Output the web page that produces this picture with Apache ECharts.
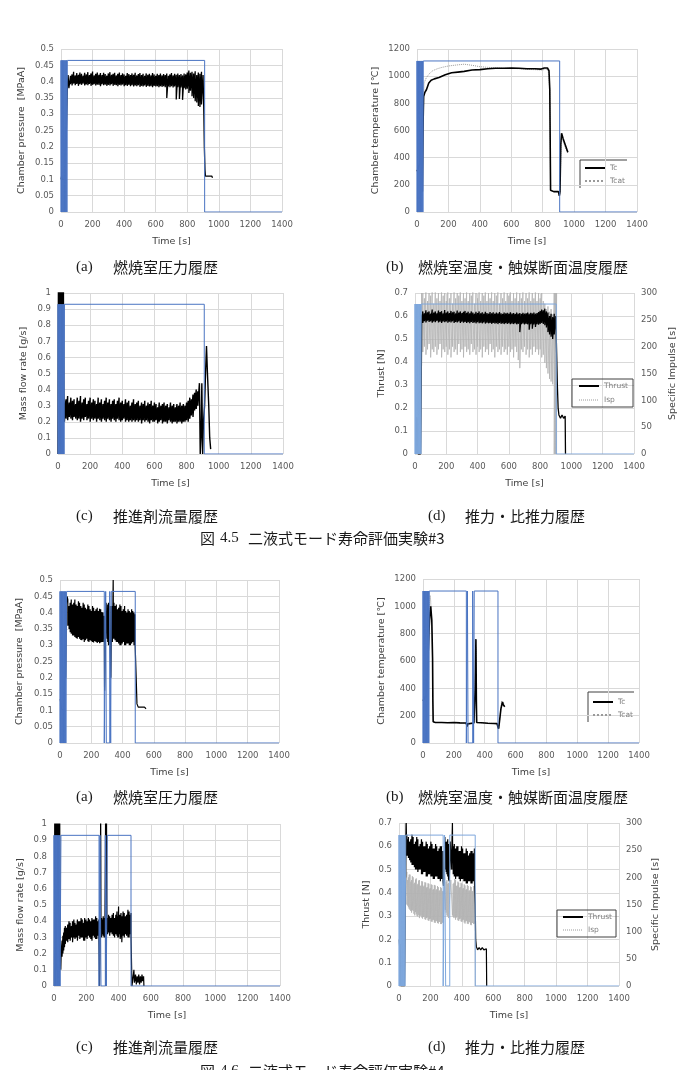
<!DOCTYPE html>
<html>
<head>
<meta charset="utf-8">
<title>二液式モード寿命評価実験</title>
<script src="https://cdn.jsdelivr.net/npm/echarts@6/dist/echarts.min.js"></script>
<style>
    html, body { margin: 0; padding: 0; background: #fff; }
    #fig { width: 689px; height: 1070px; }
</style>
</head>
<body>
<div id="fig"></div>
<script>
    // ---- data ----
    // [t, v] = single point, [t, hi, lo] = one stroke of the noise band
    const timeTicks = [0, 1400, 200];

    // valve signal: toggle times (off->on->off ...)
    const startPulses = [0, 2.5, 5, 7.5, 10, 12.5, 15, 17.5, 20, 22.5, 25, 27.5, 30, 32.5, 35, 37.5];
    const valveA3 = [40, 910];
    const valveB3 = [40, 908];
    const valveC3 = [40, 910];
    const valveD3 = [40, 903];
    const valveA4 = [42, 283, 292, 296, 318, 324, 328, 481];
    const valveB4 = [41, 281, 288, 292, 322, 328, 332, 486];
    const valveC4 = [43, 279, 285, 291, 318, 324, 330, 477];
    const valveD4 = [43, 281, 290, 297, 323, 485];
    const valveLevel = { a3: 0.465, b3: 1112, c3: 0.93, d3: 0.652, a4: 0.465, b4: 1112, c4: 0.93, d4: 0.648 };

    // #3 chamber pressure [MPaA]
    const pressure3 = [
        [1, 0.1], [4, 0.11], [7, 0.1], [26, 0.1], [28, 0.18], [30, 0.26], [32, 0.2], [36, 0.3], [40, 0.38], [45, 0.42],
        [50, .425, .38], [60, .418, .392], [70, .422, .388], [80, .43, .394], [90, .419, .389], [100, .426, .393],
        [110, .421, .387], [120, .428, .392], [130, .424, .39], [140, .418, .394], [150, .427, .388], [160, .422, .391],
        [170, .429, .389], [180, .42, .393], [190, .425, .387], [200, .431, .39], [210, .419, .392], [220, .424, .388],
        [230, .428, .391], [240, .421, .39], [250, .426, .386], [260, .42, .392], [270, .427, .389], [280, .423, .391],
        [290, .418, .387], [300, .425, .39], [310, .429, .388], [320, .421, .392], [330, .424, .387], [340, .427, .39],
        [350, .419, .389], [360, .424, .386], [370, .428, .39], [380, .42, .388], [390, .425, .391], [400, .422, .386],
        [410, .418, .389], [420, .426, .387], [430, .423, .39], [440, .42, .386], [450, .425, .389], [460, .421, .385],
        [470, .427, .388], [480, .419, .386], [490, .423, .389], [500, .426, .384], [510, .42, .387], [520, .424, .385],
        [530, .418, .388], [540, .425, .384], [550, .421, .387], [560, .424, .385], [570, .419, .386], [580, .426, .383],
        [590, .422, .387], [600, .418, .385], [610, .424, .386], [620, .42, .383], [630, .425, .386], [640, .419, .384],
        [650, .423, .386], [660, .42, .383], [670, .425, .35], [680, .418, .385], [690, .422, .383], [700, .426, .386],
        [710, .419, .382], [720, .424, .385], [730, .421, .345], [740, .425, .383], [750, .42, .347], [760, .423, .382],
        [770, .419, .344], [780, .425, .38], [790, .422, .376], [800, .428, .378], [810, .434, .365], [820, .427, .372],
        [830, .43, .355], [840, .425, .35], [850, .432, .34], [860, .42, .336], [870, .428, .325], [880, .424, .322],
        [890, .43, .33],
        [900, 0.42], [905, 0.3], [908, 0.2], [912, 0.13], [915, 0.11], [925, 0.105], [935, 0.11], [945, 0.105], [955, 0.11], [960, 0.105]
    ];

    // #3 chamber / catalyst temperature [℃]
    const tc3 = [
        [0, 300], [8, 320], [15, 350], [22, 400], [28, 600], [31, 350], [34, 150], [38, 600], [42, 850], [50, 880], [60, 900],
        [75, 950], [90, 970], [110, 980], [140, 990], [180, 1010], [220, 1025], [260, 1030], [300, 1035], [350, 1045], [400, 1048],
        [450, 1055], [500, 1058], [550, 1058], [600, 1060], [650, 1058], [700, 1055], [750, 1055], [790, 1052], [810, 1060],
        [820, 1072], [830, 1060], [840, 1040], [845, 900], [850, 160], [870, 150], [900, 150], [906, 120], [910, 150], [915, 500],
        [920, 580], [930, 540], [945, 490], [960, 440]
    ];
    const tcat3 = [
        [0, 300], [15, 340], [28, 600], [34, 200], [40, 700], [45, 950], [60, 990], [80, 1020], [100, 1040], [130, 1055],
        [160, 1065], [200, 1075], [250, 1082], [300, 1088], [350, 1080], [400, 1070], [450, 1065], [500, 1062], [550, 1058],
        [600, 1058], [650, 1055], [700, 1050], [750, 1048], [800, 1045], [820, 1055], [835, 1040], [845, 900], [850, 160],
        [870, 150], [900, 150], [906, 120], [910, 150], [918, 540], [930, 520], [945, 470], [960, 430]
    ];

    // #3 mass flow rate [g/s]
    const flow3 = [
        [0, 0], [3, 1.2], [6, 0], [9, 1.2], [12, 0.05], [15, 1.2], [18, 0], [21, 1.2], [24, 0.1], [27, 1.2], [30, 0], [33, 1.2],
        [36, 0.4], [40, 0.2], [45, 0.3],
        [50, .34, .22], [60, .36, .21], [70, .32, .23], [80, .35, .22], [90, .33, .21], [100, .34, .23], [110, .31, .22],
        [120, .35, .21], [130, .33, .22], [140, .36, .2], [150, .32, .22], [160, .34, .21], [170, .35, .23], [180, .31, .21],
        [190, .33, .22], [200, .35, .2], [210, .32, .22], [220, .34, .21], [230, .33, .22], [240, .31, .2], [250, .35, .22],
        [260, .32, .21], [270, .34, .2], [280, .31, .22], [290, .33, .21], [300, .35, .2], [310, .32, .22], [320, .34, .21],
        [330, .31, .2], [340, .33, .22], [350, .34, .21], [360, .31, .2], [370, .33, .22], [380, .35, .21], [390, .32, .2],
        [400, .33, .21], [410, .31, .22], [420, .34, .2], [430, .32, .21], [440, .33, .2], [450, .3, .21], [460, .32, .2],
        [470, .34, .21], [480, .31, .2], [490, .32, .21], [500, .33, .2], [510, .3, .21], [520, .32, .19], [530, .31, .21],
        [540, .33, .2], [550, .3, .21], [560, .32, .2], [570, .31, .19], [580, .33, .21], [590, .3, .2], [600, .32, .2],
        [610, .31, .21], [620, .29, .19], [630, .32, .2], [640, .3, .21], [650, .31, .19], [660, .32, .2], [670, .3, .2],
        [680, .31, .19], [690, .29, .21], [700, .32, .2], [710, .3, .19], [720, .31, .2], [730, .29, .2], [740, .31, .19],
        [750, .3, .2], [760, .32, .2], [770, .3, .19], [780, .31, .2], [790, .3, .2], [800, .32, .21], [810, .33, .2],
        [820, .35, .22], [830, .34, .24], [840, .37, .23], [850, .38, .27], [860, .4, .28], [870, .39, .3],
        [880, 0.44], [885, 0], [890, 0.1], [895, 0.44], [900, 0], [905, 0.2], [912, 0.3], [918, 0.5], [924, 0.67], [930, 0.5],
        [938, 0.3], [944, 0.1], [950, 0.03]
    ];

    // #3 thrust [N] and Isp [s]
    const thrust3 = [
        [5, 0], [10, 0.16], [15, 0.15], [20, 0], [35, 0], [40, 0.3], [43, 0.6], [48, 0.61],
        [50, .62, .57], [60, .612, .578], [70, .625, .572], [80, .616, .58], [90, .62, .574], [100, .61, .577],
        [110, .628, .571], [120, .615, .576], [130, .62, .573], [140, .612, .579], [150, .624, .572], [160, .617, .575],
        [170, .621, .57], [180, .611, .577], [190, .626, .573], [200, .615, .576], [210, .62, .571], [220, .613, .575],
        [230, .622, .572], [240, .616, .577], [250, .619, .57], [260, .611, .574], [270, .624, .572], [280, .615, .576],
        [290, .62, .57], [300, .613, .575], [310, .618, .571], [320, .622, .574], [330, .614, .57], [340, .619, .573],
        [350, .612, .569], [360, .62, .574], [370, .615, .57], [380, .61, .572], [390, .618, .568], [400, .613, .573],
        [410, .62, .569], [420, .612, .571], [430, .616, .568], [440, .61, .572], [450, .618, .567], [460, .613, .571],
        [470, .61, .568], [480, .617, .57], [490, .612, .566], [500, .616, .57], [510, .61, .567], [520, .615, .569],
        [530, .611, .565], [540, .617, .57], [550, .612, .566], [560, .609, .568], [570, .615, .565], [580, .611, .569],
        [590, .614, .566], [600, .61, .568], [610, .616, .564], [620, .611, .567], [630, .613, .565], [640, .609, .568],
        [650, .615, .564], [660, .61, .566], [670, .613, .53], [680, .609, .565], [690, .614, .567], [700, .61, .563],
        [710, .612, .566], [720, .615, .564], [730, .61, .54], [740, .614, .565], [750, .611, .545], [760, .615, .563],
        [770, .61, .552], [780, .613, .565], [790, .617, .562], [800, .622, .566], [810, .628, .57], [820, .625, .565],
        [830, .632, .56], [840, .62, .55], [850, .615, .53], [860, .6, .52], [870, .61, .51], [880, .595, .5], [890, .61, .52],
        [900, 0.6], [905, 0.45], [910, 0.3], [915, 0.2], [920, 0.17], [930, 0.155], [940, 0.17], [950, 0.155], [960, 0.165], [962, 0]
    ];
    const isp3 = [
        [38, 0], [42, 300], [46, 250],
        [50, 300, 190], [60, 290, 200], [70, 310, 185], [80, 285, 195], [90, 300, 205], [100, 295, 180], [110, 310, 195],
        [120, 280, 190], [130, 305, 200], [140, 290, 185], [150, 300, 195], [160, 285, 205], [170, 310, 180], [180, 295, 195],
        [190, 300, 190], [200, 285, 200], [210, 310, 185], [220, 290, 195], [230, 300, 180], [240, 280, 200], [250, 305, 190],
        [260, 290, 195], [270, 300, 185], [280, 295, 205], [290, 310, 190], [300, 285, 195], [310, 300, 180], [320, 290, 200],
        [330, 305, 190], [340, 285, 195], [350, 300, 185], [360, 295, 205], [370, 310, 190], [380, 280, 195], [390, 300, 185],
        [400, 290, 200], [410, 305, 190], [420, 285, 195], [430, 300, 180], [440, 295, 200], [450, 310, 190], [460, 285, 195],
        [470, 300, 185], [480, 290, 205], [490, 305, 190], [500, 285, 195], [510, 300, 180], [520, 295, 200], [530, 310, 190],
        [540, 280, 195], [550, 300, 185], [560, 290, 200], [570, 305, 190], [580, 285, 195], [590, 300, 185], [600, 295, 200],
        [610, 310, 190], [620, 285, 195], [630, 300, 180], [640, 290, 200], [650, 305, 190], [660, 285, 175], [670, 300, 160],
        [680, 290, 195], [690, 305, 190], [700, 285, 200], [710, 300, 185], [720, 290, 195], [730, 305, 180], [740, 285, 195],
        [750, 300, 185], [760, 290, 200], [770, 305, 190], [780, 285, 195], [790, 300, 185], [800, 290, 195], [810, 300, 180],
        [820, 285, 185], [830, 280, 170], [840, 270, 160], [850, 275, 150], [860, 265, 140], [870, 270, 135], [880, 260, 130],
        [890, 300, 0], [895, 300, 0], [900, 300, 0], [905, 300, 0]
    ];

    // #4 chamber pressure [MPaA]
    const pressure4 = [
        [2, 0.135], [5, 0.12], [8, 0.105], [12, 0.1], [25, 0.1], [28, 0.18], [32, 0.3], [36, 0.2], [40, 0.42], [45, 0.45],
        [50, 0.44, 0.36], [58, 0.42, 0.35], [65, 0.43, 0.34], [72, 0.44, 0.335], [80, 0.425, 0.33], [88, 0.43, 0.33],
        [95, 0.44, 0.325], [103, 0.425, 0.322], [110, 0.42, 0.32], [118, 0.435, 0.325], [125, 0.43, 0.32], [133, 0.42, 0.316],
        [140, 0.415, 0.315], [148, 0.43, 0.318], [155, 0.425, 0.31], [163, 0.415, 0.315], [170, 0.41, 0.32], [178, 0.425, 0.312],
        [185, 0.42, 0.31], [193, 0.41, 0.315], [200, 0.405, 0.312], [208, 0.42, 0.31], [215, 0.415, 0.308], [223, 0.405, 0.313],
        [230, 0.41, 0.31], [238, 0.415, 0.307], [245, 0.405, 0.31], [253, 0.412, 0.306], [260, 0.41, 0.308], [268, 0.402, 0.31],
        [275, 0.4, 0.31],
        [283, 0.39], [285, 0.16], [290, 0.3], [295, 0.43],
        [300, 0.435, 0.32], [305, 0.425, 0.31], [310, 0.43, 0.3], [315, 0.42, 0.305], [320, 0.42, 0.31],
        [325, 0.2], [330, 0.42], [335, 0.31], [340, 0.5], [342, 0.32],
        [345, 0.43, 0.32], [352, 0.42, 0.315], [360, 0.425, 0.31], [368, 0.41, 0.31], [375, 0.415, 0.305], [383, 0.425, 0.3],
        [390, 0.42, 0.3], [398, 0.405, 0.305], [405, 0.41, 0.31], [413, 0.42, 0.3], [420, 0.405, 0.3], [428, 0.4, 0.305],
        [435, 0.41, 0.305], [443, 0.405, 0.3], [450, 0.4, 0.3], [458, 0.41, 0.305], [465, 0.405, 0.31], [473, 0.4, 0.3],
        [480, 0.395, 0.305],
        [483, 0.3], [487, 0.2], [492, 0.12], [500, 0.11], [510, 0.105], [520, 0.11], [530, 0.105], [540, 0.11], [550, 0.105]
    ];

    // #4 chamber / catalyst temperature [℃]
    const tc4 = [
        [0, 310], [10, 325], [18, 340], [25, 420], [30, 560], [35, 700], [40, 850], [45, 950], [50, 1000], [53, 1000], [57, 900],
        [62, 620], [64, 300], [66, 155], [80, 150], [120, 150], [160, 148], [200, 150], [240, 147], [280, 146], [286, 120],
        [290, 140], [300, 148], [330, 146], [338, 400], [343, 760], [346, 300], [348, 150], [380, 148], [420, 145], [460, 143],
        [480, 142], [485, 120], [490, 105], [495, 150], [505, 250], [515, 300], [520, 280], [530, 265]
    ];
    const tcat4 = [
        [0, 310], [10, 330], [20, 380], [30, 600], [40, 950], [46, 1080], [50, 1040], [55, 900], [62, 620], [64, 300], [66, 155],
        [80, 150], [120, 150], [200, 148], [280, 146], [286, 125], [290, 140], [330, 146], [338, 350], [343, 700], [346, 300],
        [348, 150], [420, 145], [480, 142], [490, 105], [500, 200], [510, 310], [515, 280], [520, 300], [527, 270]
    ];

    // #4 mass flow rate [g/s]
    const flow4 = [
        [2, 0], [5, 1.2], [8, 0], [11, 1.2], [14, 0.1], [17, 1.2], [20, 0], [23, 1.2], [26, 0.05], [29, 1.2], [32, 0], [35, 1.2],
        [38, 0.2], [42, 0.1], [45, 0.22],
        [50, 0.28, 0.18], [55, 0.31, 0.2], [60, 0.33, 0.22], [65, 0.36, 0.24], [70, 0.37, 0.26], [78, 0.36, 0.28],
        [85, 0.38, 0.27], [93, 0.4, 0.29], [100, 0.39, 0.28], [108, 0.37, 0.3], [115, 0.4, 0.27], [123, 0.41, 0.3],
        [130, 0.39, 0.29], [138, 0.38, 0.3], [145, 0.41, 0.28], [153, 0.4, 0.31], [160, 0.4, 0.29], [168, 0.42, 0.3],
        [175, 0.41, 0.3], [183, 0.39, 0.28], [190, 0.42, 0.28], [198, 0.41, 0.3], [205, 0.4, 0.29], [213, 0.42, 0.31],
        [220, 0.41, 0.3], [228, 0.4, 0.29], [235, 0.42, 0.28], [243, 0.41, 0.31], [250, 0.41, 0.3], [258, 0.43, 0.29],
        [265, 0.42, 0.29], [272, 0.4, 0.31], [278, 0.41, 0.3],
        [282, 0], [286, 0.3], [289, 1.1], [291, 0.35],
        [295, 0.42, 0.3], [300, 0.41, 0.32], [305, 0.43, 0.31], [310, 0.42, 0.3], [315, 0.41, 0.3],
        [320, 1.1], [322, 0], [325, 1.1], [328, 0.35],
        [332, 0.42, 0.32], [338, 0.44, 0.33], [345, 0.43, 0.31], [352, 0.42, 0.33], [360, 0.44, 0.32], [368, 0.45, 0.31],
        [375, 0.42, 0.3], [383, 0.44, 0.32], [390, 0.46, 0.31], [395, 0.43, 0.3], [400, 0.49, 0.3], [405, 0.44, 0.32],
        [410, 0.44, 0.29], [415, 0.45, 0.3], [420, 0.43, 0.27], [428, 0.46, 0.31], [435, 0.45, 0.3], [443, 0.43, 0.32],
        [450, 0.44, 0.31], [458, 0.47, 0.3], [465, 0.46, 0.3], [471, 0.44, 0.32], [477, 0.45, 0.31],
        [480, 0.3], [483, 0], [490, 0], [493, 0.08], [495, 0.1], [498, 0.02], [505, 0.07], [510, 0.01], [515, 0.06], [520, 0.02],
        [525, 0.07], [530, 0.01], [535, 0.06], [540, 0.02], [545, 0.07], [550, 0.03], [555, 0.06], [557, 0]
    ];

    // #4 thrust [N] and Isp [s]
    const thrust4 = [
        [2, 0.2], [5, 0.15], [8, 0.18], [12, 0], [35, 0], [40, 0.3], [44, 0.63], [46, 0.7], [48, 0.62],
        [50, 0.65, 0.56], [55, 0.63, 0.56], [60, 0.64, 0.55], [68, 0.62, 0.54], [75, 0.63, 0.53], [83, 0.65, 0.52],
        [90, 0.64, 0.52], [98, 0.61, 0.51], [105, 0.62, 0.5], [113, 0.64, 0.5], [120, 0.63, 0.49], [128, 0.6, 0.5],
        [135, 0.61, 0.5], [143, 0.63, 0.48], [150, 0.62, 0.48], [158, 0.6, 0.49], [165, 0.6, 0.49], [173, 0.62, 0.47],
        [180, 0.61, 0.47], [188, 0.59, 0.48], [195, 0.6, 0.48], [203, 0.62, 0.47], [210, 0.61, 0.47], [218, 0.59, 0.46],
        [225, 0.59, 0.46], [233, 0.61, 0.47], [240, 0.6, 0.47], [248, 0.58, 0.46], [255, 0.59, 0.46], [263, 0.6, 0.45],
        [270, 0.6, 0.46], [275, 0.58, 0.46], [280, 0.58, 0.45],
        [283, 0.43], [287, 0.46], [292, 0.64],
        [295, 0.64, 0.5], [300, 0.62, 0.49], [305, 0.62, 0.48], [310, 0.63, 0.47], [315, 0.61, 0.46],
        [320, 0.45], [326, 0.62], [333, 0.5], [340, 0.7], [342, 0.5],
        [345, 0.6, 0.48], [352, 0.61, 0.47], [360, 0.59, 0.46], [368, 0.6, 0.47], [375, 0.6, 0.47], [383, 0.58, 0.46],
        [390, 0.58, 0.45], [398, 0.6, 0.46], [405, 0.59, 0.46], [413, 0.57, 0.45], [420, 0.57, 0.45], [428, 0.59, 0.44],
        [435, 0.58, 0.44], [443, 0.56, 0.45], [450, 0.57, 0.45], [458, 0.58, 0.44], [465, 0.58, 0.44], [473, 0.57, 0.45],
        [480, 0.59, 0.45],
        [485, 0.35], [488, 0.2], [492, 0.17], [500, 0.155], [510, 0.165], [520, 0.155], [530, 0.165], [540, 0.155],
        [550, 0.16], [556, 0.16], [558, 0]
    ];
    const isp4 = [
        [35, 0], [40, 300], [45, 300], [48, 200],
        [50, 210, 150], [55, 195, 148], [60, 200, 145], [65, 205, 142], [70, 205, 140], [75, 192, 138], [80, 195, 135],
        [85, 202, 140], [90, 200, 138], [95, 188, 133], [100, 190, 130], [105, 196, 136], [110, 198, 132], [115, 186, 129],
        [120, 188, 128], [125, 194, 131], [130, 195, 125], [135, 184, 129], [140, 185, 130], [145, 193, 126], [150, 192, 124],
        [155, 183, 127], [160, 185, 128], [165, 191, 123], [170, 190, 122], [175, 181, 125], [180, 182, 126], [185, 189, 121],
        [190, 188, 120], [195, 179, 123], [200, 180, 124], [205, 187, 119], [210, 186, 118], [215, 177, 121], [220, 178, 122],
        [225, 186, 117], [230, 185, 116], [235, 176, 119], [240, 178, 120], [245, 184, 116], [250, 182, 115], [255, 175, 118],
        [260, 176, 118], [265, 182, 114], [270, 180, 114], [275, 174, 117], [280, 175, 116],
        [285, 140], [290, 200],
        [295, 200, 140], [300, 192, 135], [305, 195, 130], [310, 188, 128], [315, 190, 125],
        [320, 150], [330, 195],
        [340, 195, 130], [345, 188, 127], [350, 190, 125], [355, 197, 128], [360, 195, 122], [365, 184, 126], [370, 185, 128],
        [375, 192, 121], [380, 190, 120], [385, 181, 123], [390, 182, 124], [395, 190, 119], [400, 188, 118], [405, 179, 121],
        [410, 180, 122], [415, 187, 117], [420, 185, 115], [425, 177, 119], [430, 178, 120], [435, 186, 115], [440, 184, 114],
        [445, 175, 117], [450, 176, 118], [455, 183, 113], [460, 182, 112], [465, 174, 116], [470, 175, 116], [475, 184, 114],
        [480, 185, 115],
        [484, 120], [486, 0]
    ];

    // ---- helpers ----
    // band strokes [t,hi,lo] become two points on the same t
    function expand(arr) {
        const out = [];
        arr.forEach(p => {
            if (p.length === 3) {
                out.push([p[0], p[1]], [p[0], p[2]]);
            } else {
                out.push(p);
            }
        });
        return out;
    }

    // toggle times -> step line
    function steps(edges, level) {
        const out = [[0, 0]];
        let on = false;
        edges.forEach(t => {
            const prev = on ? level : 0;
            on = !on;
            out.push([t, prev], [t, on ? level : 0]);
        });
        out.push([timeTicks[1], 0]);
        return out;
    }

    const FONT = 'DejaVu Sans';
    const tickColor = '#595959';
    const gridColor = '#d9d9d9';

    function xAxis(gi) {
        return {
            type: 'value', gridIndex: gi,
            min: timeTicks[0], max: timeTicks[1], interval: timeTicks[2],
            name: 'Time [s]', nameLocation: 'middle', nameGap: 25,
            nameTextStyle: { fontSize: 9.5, color: '#404040', fontFamily: FONT },
            axisLine: { show: false },
            axisTick: { show: false },
            axisLabel: { fontSize: 8.5, color: tickColor, fontFamily: FONT, margin: 8, formatter: v => String(v) },
            splitLine: { lineStyle: { color: gridColor, width: 1 } }
        };
    }

    function yAxis(gi, max, interval, name, gap, right) {
        return {
            type: 'value', gridIndex: gi,
            min: 0, max: max, interval: interval,
            position: right ? 'right' : 'left',
            name: name, nameLocation: 'middle', nameGap: gap,
            nameTextStyle: { fontSize: 9.5, color: '#404040', fontFamily: FONT },
            axisLine: { show: false },
            axisTick: { show: false },
            axisLabel: {
                fontSize: 8.5, color: tickColor, fontFamily: FONT, margin: 7,
                formatter: v => String(+v.toFixed(2))
            },
            splitLine: { show: !right, lineStyle: { color: gridColor, width: 1 } }
        };
    }

    function line(name, data, xi, yi, color, width, type) {
        return {
            name: name, type: 'line', data: data,
            xAxisIndex: xi, yAxisIndex: yi,
            symbol: 'none', silent: true, animation: false,
            lineStyle: { color: color, width: width, type: type || 'solid' },
            itemStyle: { color: color }
        };
    }

    const blue = '#4a74c2';
    const lightBlue = '#7ea7dc';
    const gray = '#9a9a9a';
    const ispGray = '#b3b3b3';

    const legendText = { fontSize: 7.5, color: '#7f7f7f', fontFamily: FONT };
    // legend shows only the line sample, no marker
    const legendBase = {
        orient: 'vertical', itemWidth: 20, itemHeight: 8,
        textStyle: legendText, itemStyle: { opacity: 0 }
    };
    const ispLegend = { name: 'Isp', lineStyle: { type: 'dotted', color: gray, width: 1 } };

    const option = {
        backgroundColor: '#fff',
        animation: false,
        grid: [
            { left: 61, top: 49, width: 221, height: 163 },
            { left: 417, top: 49, width: 220, height: 163 },
            { left: 58, top: 293, width: 225, height: 161 },
            { left: 415, top: 293, width: 219, height: 161 },
            { left: 60, top: 580, width: 219, height: 163 },
            { left: 423, top: 579, width: 216, height: 164 },
            { left: 54, top: 824, width: 226, height: 162 },
            { left: 399, top: 823, width: 220, height: 163 }
        ],
        xAxis: [0, 1, 2, 3, 4, 5, 6, 7].map(xAxis),
        yAxis: [
            yAxis(0, 0.5, 0.05, 'Chamber pressure  [MPaA]', 34),
            yAxis(1, 1200, 200, 'Chamber temperature [℃]', 36),
            yAxis(2, 1, 0.1, 'Mass flow rate [g/s]', 29),
            yAxis(3, 0.7, 0.1, 'Thrust [N]', 28),
            yAxis(3, 300, 50, 'Specific Impulse [s]', 34, true),
            yAxis(4, 0.5, 0.05, 'Chamber pressure  [MPaA]', 35),
            yAxis(5, 1200, 200, 'Chamber temperature [℃]', 36),
            yAxis(6, 1, 0.1, 'Mass flow rate [g/s]', 28),
            yAxis(7, 0.7, 0.1, 'Thrust [N]', 27),
            yAxis(7, 300, 50, 'Specific Impulse [s]', 32, true)
        ],
        legend: [
            Object.assign({}, legendBase, { left: 582, top: 162, padding: 2, itemGap: 5, data: ['Tc', 'Tcat'] }),
            Object.assign({}, legendBase, { left: 590, top: 696, padding: 2, itemGap: 5, data: ['Tc', 'Tcat'] }),
            Object.assign({}, legendBase, {
                left: 572, top: 379, padding: [3, 5, 3, 6], itemGap: 6, data: ['Thrust', ispLegend],
                borderColor: '#404040', borderWidth: 1
            }),
            Object.assign({}, legendBase, {
                left: 557, top: 910, padding: [3, 4, 3, 5], itemGap: 5, data: ['Thrust', ispLegend],
                borderColor: '#404040', borderWidth: 1
            })
        ],
        series: [
            // #3
            line('Pc#3', expand(pressure3), 0, 0, '#000', 1.3),
            line('valveA3', steps(startPulses.concat(valveA3), valveLevel.a3), 0, 0, blue, 1),

            line('Tcat', tcat3, 1, 1, gray, 1, 'dotted'),
            line('Tc', tc3, 1, 1, '#000', 1.6),
            line('valveB3', steps(startPulses.concat(valveB3), valveLevel.b3), 1, 1, blue, 1),

            line('m#3', expand(flow3), 2, 2, '#000', 1.4),
            line('valveC3', steps(startPulses.concat(valveC3), valveLevel.c3), 2, 2, blue, 1),

            line('Isp', expand(isp3), 3, 4, ispGray, 0.8),
            line('Thrust', expand(thrust3), 3, 3, '#000', 1.3),
            line('valveD3', steps(startPulses.concat(valveD3), valveLevel.d3), 3, 3, lightBlue, 1),

            // #4
            line('Pc#4', expand(pressure4), 4, 5, '#000', 1.2),
            line('valveA4', steps(startPulses.concat(valveA4), valveLevel.a4), 4, 5, blue, 1),

            line('Tcat', tcat4, 5, 6, gray, 1, 'dotted'),
            line('Tc', tc4, 5, 6, '#000', 1.6),
            line('valveB4', steps(startPulses.concat(valveB4), valveLevel.b4), 5, 6, blue, 1),

            line('m#4', expand(flow4), 6, 7, '#000', 1.2),
            line('valveC4', steps(startPulses.concat(valveC4), valveLevel.c4), 6, 7, blue, 1),

            line('Isp', expand(isp4), 7, 9, ispGray, 0.8),
            line('Thrust', expand(thrust4), 7, 8, '#000', 1.2),
            line('valveD4', steps(startPulses.concat(valveD4), valveLevel.d4), 7, 8, lightBlue, 1)
        ],
        graphic: []
    };

    // captions
    const capLatin = 'Liberation Serif';
    const capCjk = 'Noto Sans CJK JP';
    function cap(x, y, text, family) {
        return {
            type: 'text', x: x, y: y, silent: true,
            style: { text: text, fontSize: 15, fontFamily: family, fill: '#1a1a1a', verticalAlign: 'middle' }
        };
    }
    option.graphic.push(
        cap(76, 267, '(a)', capLatin), cap(113, 267, '燃焼室圧力履歴', capCjk),
        cap(386, 267, '(b)', capLatin), cap(418, 267, '燃焼室温度・触媒断面温度履歴', capCjk),
        cap(76, 516, '(c)', capLatin), cap(113, 516, '推進剤流量履歴', capCjk),
        cap(428, 516, '(d)', capLatin), cap(465, 516, '推力・比推力履歴', capCjk),
        cap(200, 538, '図', capCjk), cap(220, 538, '4.5', capLatin), cap(248, 538, '二液式モード寿命評価実験#3', capCjk),
        cap(76, 797, '(a)', capLatin), cap(113, 797, '燃焼室圧力履歴', capCjk),
        cap(386, 797, '(b)', capLatin), cap(418, 797, '燃焼室温度・触媒断面温度履歴', capCjk),
        cap(76, 1047, '(c)', capLatin), cap(113, 1047, '推進剤流量履歴', capCjk),
        cap(428, 1047, '(d)', capLatin), cap(465, 1047, '推力・比推力履歴', capCjk),
        cap(200, 1071, '図', capCjk), cap(220, 1071, '4.6', capLatin), cap(248, 1071, '二液式モード寿命評価実験#4', capCjk)
    );

    // the temperature legends only show a top and left edge
    option.graphic.push(
        { type: 'polyline', silent: true, shape: { points: [[580, 188], [580, 160], [627, 160]] },
          style: { stroke: '#404040', lineWidth: 1, fill: null } },
        { type: 'polyline', silent: true, shape: { points: [[588, 722], [588, 692], [634, 692]] },
          style: { stroke: '#404040', lineWidth: 1, fill: null } }
    );

    const chart = echarts.init(document.getElementById('fig'));
    chart.setOption(option);
</script>
</body>
</html>
